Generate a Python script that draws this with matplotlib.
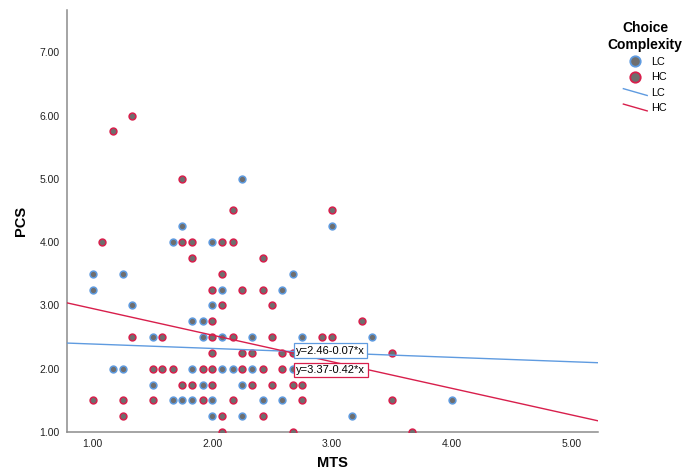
import matplotlib
matplotlib.use("Agg")
import matplotlib.pyplot as plt
import numpy as np
from matplotlib.lines import Line2D
from matplotlib.legend_handler import HandlerBase

plt.rcParams['font.family'] = ['Liberation Sans', 'DejaVu Sans']

# LC (low complexity) points
lc_x = [1.0, 1.25, 2.67, 1.0, 2.08, 2.58, 1.33, 2.0, 1.83, 1.92,
        1.5, 1.92, 2.08, 2.33, 2.75, 3.33,
        1.17, 1.25, 1.83, 2.08, 2.17, 2.33, 2.67,
        1.5, 1.92, 2.25,
        1.67, 1.75, 1.83, 2.0, 2.42, 2.58, 4.0,
        2.0, 2.25, 3.17,
        1.67, 2.0, 1.75, 3.0, 2.25]
lc_y = [3.5, 3.5, 3.5, 3.25, 3.25, 3.25, 3.0, 3.0, 2.75, 2.75,
        2.5, 2.5, 2.5, 2.5, 2.5, 2.5,
        2.0, 2.0, 2.0, 2.0, 2.0, 2.0, 2.0,
        1.75, 1.75, 1.75,
        1.5, 1.5, 1.5, 1.5, 1.5, 1.5, 1.5,
        1.25, 1.25, 1.25,
        4.0, 4.0, 4.25, 4.25, 5.0]

# HC (high complexity) points
hc_x = [1.33, 1.17, 1.75,
        2.17, 3.0,
        1.08, 1.75, 1.83, 2.08, 2.17,
        1.83, 2.42,
        2.08,
        2.0, 2.25, 2.42,
        2.08, 2.5,
        2.0, 3.25,
        1.33, 1.58, 2.0, 2.17, 2.5, 2.92, 3.0,
        2.0, 2.25, 2.33, 2.58, 2.67, 3.5,
        1.5, 1.58, 1.67, 1.92, 2.0, 2.25, 2.42, 2.58,
        1.75, 1.83, 2.0, 2.33, 2.5, 2.67, 2.75,
        1.0, 1.25, 1.5, 1.92, 2.17, 2.75, 3.5,
        1.25, 2.08, 2.42,
        2.08, 2.67, 3.67]
hc_y = [6.0, 5.75, 5.0,
        4.5, 4.5,
        4.0, 4.0, 4.0, 4.0, 4.0,
        3.75, 3.75,
        3.5,
        3.25, 3.25, 3.25,
        3.0, 3.0,
        2.75, 2.75,
        2.5, 2.5, 2.5, 2.5, 2.5, 2.5, 2.5,
        2.25, 2.25, 2.25, 2.25, 2.25, 2.25,
        2.0, 2.0, 2.0, 2.0, 2.0, 2.0, 2.0, 2.0,
        1.75, 1.75, 1.75, 1.75, 1.75, 1.75, 1.75,
        1.5, 1.5, 1.5, 1.5, 1.5, 1.5, 1.5,
        1.25, 1.25, 1.25,
        1.0, 1.0, 1.0]

groups = ['LC', 'HC']
intercepts = [2.46, 3.37]
slopes = [-0.07, -0.42]
fit_labels = ['y=2.46-0.07*x', 'y=3.37-0.42*x']
x_ticks = [1.0, 2.0, 3.0, 4.0, 5.0]
y_ticks = [1.0, 2.0, 3.0, 4.0, 5.0, 6.0, 7.0]

BLUE = '#5f9be0'
RED = '#d81f4c'
FILL = '#6e6e6e'

fig = plt.figure(figsize=(6.86, 4.73), dpi=100)
ax = fig.add_axes([66.7/686, 41/473, (598-66.7)/686, 422/473])

xmin, xmax = 0.783, 5.222
ax.set_xlim(xmin, xmax)
ax.set_ylim(1.0, 7.667)

ax.scatter(lc_x, lc_y, s=24, facecolor=FILL, edgecolor=BLUE, linewidths=1.1, zorder=3)
ax.scatter(hc_x, hc_y, s=24, facecolor=FILL, edgecolor=RED, linewidths=1.1, zorder=3)

xs = np.array([xmin, xmax])
colors = [BLUE, RED]
for a, b, c in zip(intercepts, slopes, colors):
    ax.plot(xs, a + b * xs, color=c, lw=1.0, zorder=4)

# equation labels
ax.text(2.70, 2.283, fit_labels[0], fontsize=8, ha='left', va='center', zorder=6,
        bbox=dict(boxstyle='square,pad=0.22', fc='white', ec=BLUE, lw=0.9))
ax.text(2.70, 1.98, fit_labels[1], fontsize=8, ha='left', va='center', zorder=6,
        bbox=dict(boxstyle='square,pad=0.22', fc='white', ec=RED, lw=0.9))

ax.set_xticks(x_ticks)
ax.set_yticks(y_ticks)
ax.set_xticklabels([f'{v:.2f}' for v in x_ticks])
ax.set_yticklabels([f'{v:.2f}' for v in y_ticks])
ax.tick_params(length=0, labelsize=7.5, pad=5, colors='#222222')
for s in ['top', 'right']:
    ax.spines[s].set_visible(False)
for s in ['left', 'bottom']:
    ax.spines[s].set_color('#8c8c8c')
    ax.spines[s].set_linewidth(1.1)

ax.set_xlabel('MTS', fontsize=10.5, fontweight='bold', labelpad=5)
ax.set_ylabel('PCS', fontsize=10.5, fontweight='bold', labelpad=8)


class HandlerDiag(HandlerBase):
    def create_artists(self, legend, orig_handle, xdescent, ydescent, width, height, fontsize, trans):
        ln = Line2D([-xdescent, -xdescent + width], [-ydescent + height * 0.95, -ydescent + height * 0.05],
                    color=orig_handle.get_color(), lw=orig_handle.get_linewidth(), transform=trans)
        return [ln]


class DiagLine(Line2D):
    pass


handles = [
    Line2D([], [], ls='', marker='o', markersize=7.5, markerfacecolor=FILL, markeredgecolor=BLUE, markeredgewidth=1.3),
    Line2D([], [], ls='', marker='o', markersize=7.5, markerfacecolor=FILL, markeredgecolor=RED, markeredgewidth=1.3),
    DiagLine([], [], color=BLUE, lw=1.0),
    DiagLine([], [], color=RED, lw=1.0),
]
leg = fig.legend(handles, groups + groups, loc='upper center', bbox_to_anchor=(645/686, 1 - 16/473),
                 frameon=False, fontsize=7.8, title='Choice\nComplexity',
                 title_fontproperties={'size': 10, 'weight': 'bold'},
                 handlelength=2.2, handletextpad=0.35, labelspacing=0.5, borderpad=0,
                 handler_map={DiagLine: HandlerDiag()})
leg.get_title().set_multialignment('center')

fig.savefig('out.png', dpi=100)
